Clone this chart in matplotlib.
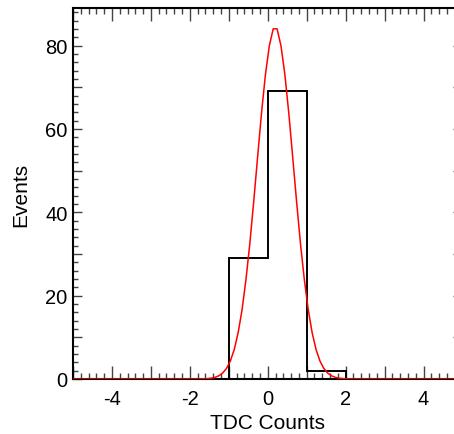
import matplotlib
matplotlib.use("Agg")
import matplotlib.pyplot as plt
from matplotlib.ticker import MultipleLocator, FuncFormatter

plt.rcParams['font.family'] = ['Liberation Sans', 'DejaVu Sans']

# Histogram (bin edges and counts)
bin_edges = [-5, -4, -3, -2, -1, 0, 1, 2, 3, 4, 5]
counts = [0, 0, 0, 0, 29, 69, 2, 0, 0, 0]

# Fitted curve (red)
fit_x = [-5.06, -1.76, -1.66, -1.56, -1.46, -1.36, -1.26, -1.16, -1.06, -0.96, -0.86,
         -0.76, -0.66, -0.56, -0.46, -0.36, -0.26, -0.16, -0.06, 0.04, 0.14,
         0.24, 0.34, 0.44, 0.54, 0.64, 0.74, 0.84, 0.94, 1.04, 1.14, 1.24,
         1.34, 1.44, 1.54, 1.64, 1.74, 1.84, 1.94, 2.04, 2.14, 5.04]
fit_y = [0.0, 0.02, 0.04, 0.09, 0.19, 0.38, 0.75, 1.41, 2.52, 4.32, 7.08,
         11.1, 16.6, 23.8, 32.5, 42.6, 53.3, 63.8, 73.0, 79.9, 84.0,
         84.0, 79.9, 73.0, 63.8, 53.3, 42.6, 32.5, 23.8, 16.6, 11.1, 7.08,
         4.32, 2.52, 1.41, 0.75, 0.38, 0.19, 0.09, 0.04, 0.02, 0.0]

fig = plt.figure(figsize=(4.54, 4.35), dpi=100)
ax = fig.add_axes([73/454, 55/435, (462.5-73)/454, 371/435])

ax.stairs(counts, bin_edges, color='black', linewidth=1.4, zorder=2)
ax.plot(fit_x, fit_y, color='red', linewidth=1.1, zorder=3)

ax.set_xlim(-5, 5)
ax.set_ylim(0, 89)

ax.xaxis.set_major_locator(MultipleLocator(1))
ax.xaxis.set_minor_locator(MultipleLocator(0.2))
ax.yaxis.set_major_locator(MultipleLocator(10))
ax.yaxis.set_minor_locator(MultipleLocator(2))

def xfmt(v, pos):
    iv = int(round(v))
    return f"{iv}" if iv % 2 == 0 else ""

def yfmt(v, pos):
    iv = int(round(v))
    return f"{iv}" if iv % 20 == 0 else ""

ax.xaxis.set_major_formatter(FuncFormatter(xfmt))
ax.yaxis.set_major_formatter(FuncFormatter(yfmt))

ax.tick_params(axis='x', which='major', direction='in', length=9.4, width=1.0,
               top=True, bottom=True, labelsize=14.5, pad=7, color='#444444')
ax.tick_params(axis='x', which='minor', direction='in', length=4.3, width=1.0,
               top=True, bottom=True, color='#444444')
ax.tick_params(axis='y', which='major', direction='in', length=6.5, width=1.0,
               left=True, right=True, labelsize=14.5, pad=4, color='#444444')
ax.tick_params(axis='y', which='minor', direction='in', length=3.6, width=1.0,
               left=True, right=True, color='#444444')

for s in ax.spines.values():
    s.set_linewidth(1.5)
    s.set_color('black')

ax.set_xlabel('TDC Counts', fontsize=15, labelpad=4)
ax.set_ylabel('Events', fontsize=15, labelpad=11)

fig.savefig('out.png', dpi=100)
